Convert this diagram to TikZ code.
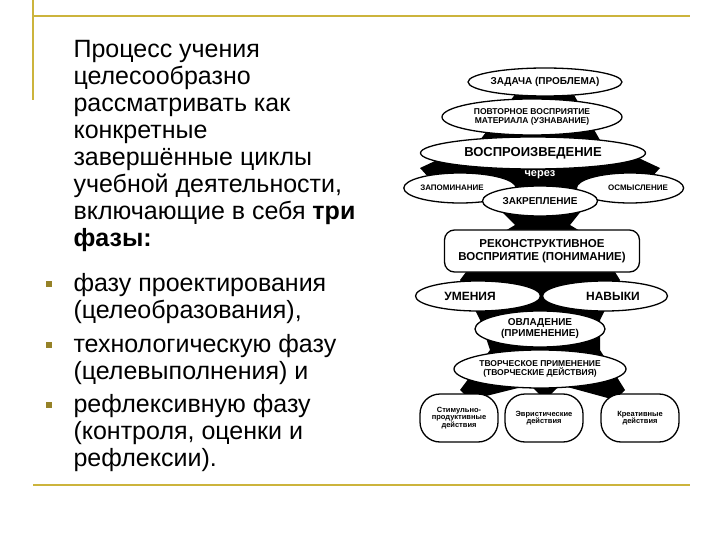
\documentclass[tikz,border=0pt]{standalone}
\usepackage{fontspec}
\setmainfont{Liberation Sans}
\usetikzlibrary{shapes.geometric}
\definecolor{olive}{RGB}{204,180,60}
\definecolor{bulc}{RGB}{150,130,40}
\tikzset{
  el/.style={draw,line width=1.3pt,fill=white,ellipse,inner sep=0pt,align=center,font=\fontsize{#1}{#1}\selectfont\bfseries},
  rr/.style={draw,line width=1.3pt,fill=white,rounded corners=10pt,align=center,inner sep=0pt,font=\fontsize{#1}{#1}\selectfont\bfseries},
  body/.style={anchor=base west,font=\fontsize{25}{25}\selectfont},
  bul/.style={fill=bulc,minimum size=6pt,inner sep=0pt}
}
\begin{document}
\begin{tikzpicture}[x=1pt,y=-1pt]
\useasboundingbox (0,0) rectangle (720,540);
\fill[white] (0,0) rectangle (720,540);
\draw[olive,line width=1.2pt] (33,16) -- (690,16);
\draw[olive,line width=1.2pt] (33,0) -- (33,100);
\draw[olive,line width=1.2pt] (33,485) -- (690,485);
\node[body] (t1) at (70,58) {Процесс учения};
\node[body] (t2) at (70,85) {целесообразно};
\node[body] (t3) at (70,112) {рассматривать как};
\node[body] (t4) at (70,139) {конкретные};
\node[body] (t5) at (70,166) {завершённые циклы};
\node[body] (t6) at (70,193) {учебной деятельности,};
\node[body] (t7) at (70,220) {включающие в себя \textbf{три}};
\node[body] (t8) at (70,247) {\textbf{фазы:}};
\node[body] (t9) at (70,291) {фазу проектирования};
\node[body] (t10) at (70,318) {(целеобразования),};
\node[body] (t11) at (70,352) {технологическую фазу};
\node[body] (t12) at (70,379) {(целевыполнения) и};
\node[body] (t13) at (70,412) {рефлексивную фазу};
\node[body] (t14) at (70,439) {(контроля, оценки и};
\node[body] (t15) at (70,466) {рефлексии).};
\node[bul] (b1) at (49,284) {};
\node[bul] (b2) at (49,345) {};
\node[bul] (b3) at (49,405) {};
\fill[black] (520,88) -- (570,88) -- (600,140) -- (660,168) -- (640,190) -- (590,200)
  -- (570,225) -- (595,240) -- (620,280) -- (600,320) -- (600,350) -- (625,390)
  -- (615,400) -- (560,385) -- (545,400) -- (530,385) -- (470,400) -- (460,390)
  -- (490,350) -- (480,320) -- (460,280) -- (490,240) -- (515,225) -- (490,200)
  -- (440,190) -- (420,168) -- (480,140) -- cycle;
\node[el=10,minimum width=150,minimum height=28] (zad) at (545,82) {ЗАДАЧА (ПРОБЛЕМА)};
\node[el=8.5,minimum width=180,minimum height=36] (pov) at (532,117) {ПОВТОРНОЕ ВОСПРИЯТИЕ\\[1pt]МАТЕРИАЛА (УЗНАВАНИЕ)};
\node[el=13,minimum width=225,minimum height=32] (vos) at (533,153) {ВОСПРОИЗВЕДЕНИЕ};
\node[font=\fontsize{11}{11}\selectfont\bfseries,text=white] (cher) at (540,175) {через};
\node[el=8,minimum width=92,minimum height=30] (zap) at (460,188) {ЗАПОМИНАНИЕ\phantom{XXX}};
\node[el=8,minimum width=90,minimum height=30] (osm) at (630,188) {\phantom{XXX}ОСМЫСЛЕНИЕ};
\node[el=10,minimum width=115,minimum height=30] (zak) at (540,201) {ЗАКРЕПЛЕНИЕ};
\node[rr=11.5,minimum width=195,minimum height=42] (rek) at (542,251) {РЕКОНСТРУКТИВНОЕ\\[2pt]ВОСПРИЯТИЕ (ПОНИМАНИЕ)};
\node[el=12,minimum width=125,minimum height=30] (um) at (478,296) {УМЕНИЯ\phantom{XX}};
\node[el=12,minimum width=125,minimum height=30] (nav) at (605,296) {\phantom{XX}НАВЫКИ};
\node[el=10,minimum width=130,minimum height=36] (ovl) at (540,329) {ОВЛАДЕНИЕ\\[1pt](ПРИМЕНЕНИЕ)};
\node[el=8.5,minimum width=172,minimum height=38] (tvo) at (540,369) {ТВОРЧЕСКОЕ ПРИМЕНЕНИЕ\\[1pt](ТВОРЧЕСКИЕ ДЕЙСТВИЯ)};
\node[rr=7.5,rounded corners=20pt,minimum width=78,minimum height=48] (s1) at (459,418) {Стимульно-\\продуктивные\\действия};
\node[rr=7.5,rounded corners=20pt,minimum width=78,minimum height=48] (s2) at (544,418) {Эвристические\\действия};
\node[rr=7.5,rounded corners=20pt,minimum width=78,minimum height=48] (s3) at (640,418) {Креативные\\действия};
\end{tikzpicture}
\end{document}
